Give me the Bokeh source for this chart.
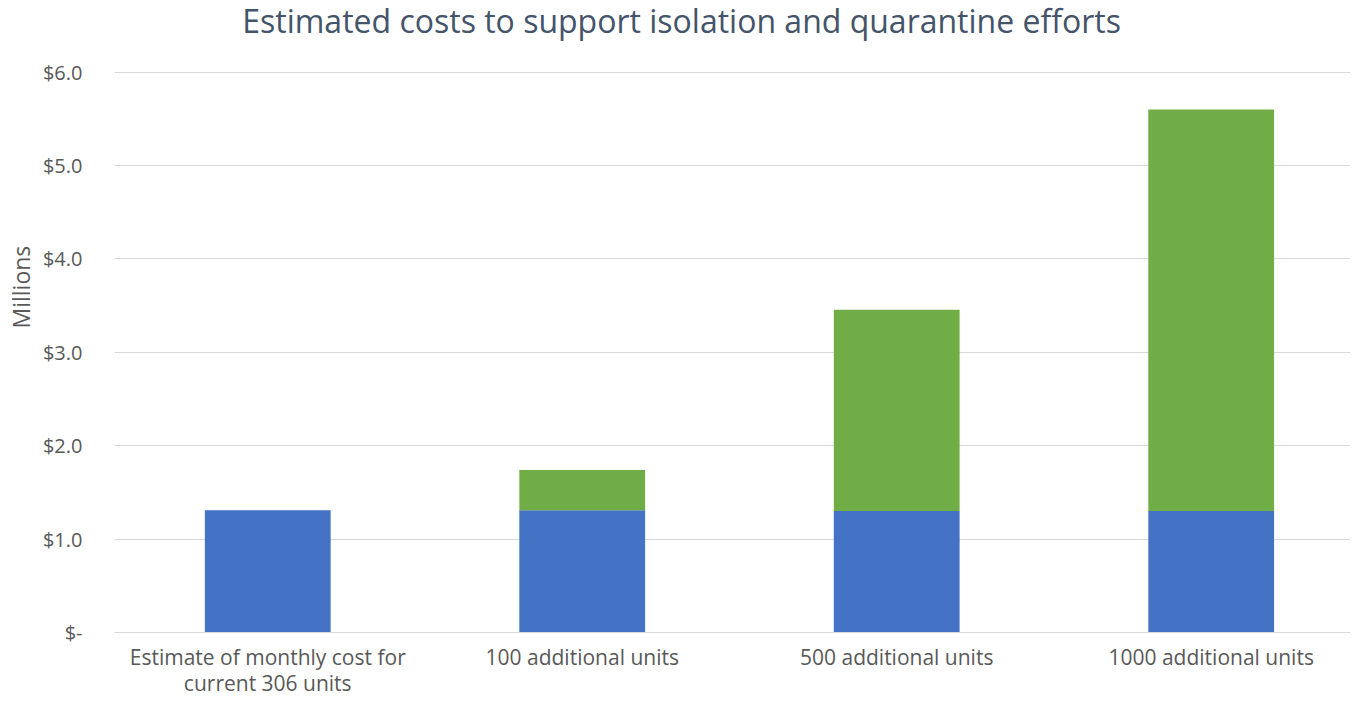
from bokeh.plotting import figure
from bokeh.models import Range1d, FixedTicker, ColumnDataSource, Title, Label
from bokeh.embed import file_html
from bokeh.resources import INLINE

title_text = "Estimated costs to support isolation and quarantine efforts"
categories = ["Estimate of monthly cost for\ncurrent 306 units", "100 additional units",
              "500 additional units", "1000 additional units"]
current_cost = [1.31, 1.31, 1.30, 1.30]
additional_cost = [0.0, 0.43, 2.155, 4.30]
y_ticks = [0, 1, 2, 3, 4, 5, 6]
y_tick_labels = ["$-", "$1.0", "$2.0", "$3.0", "$4.0", "$5.0", "$6.0"]

FONT = "Open Sans"
GRAY = "#595959"

xs = list(range(len(categories)))
top_total = [a + b for a, b in zip(current_cost, additional_cost)]
src = ColumnDataSource(dict(x=xs, cur=current_cost, top=top_total))

# frame spans the full height above the x labels; the extra range above 6 holds the title
p = figure(width=1350, height=700, output_backend="svg", toolbar_location=None,
           title_location=None,
           x_range=Range1d(-0.4873, 3.443), y_range=Range1d(0, 6.767),
           min_border_left=112, min_border_right=0, min_border_top=0, min_border_bottom=60)

p.vbar(x="x", bottom=0, top="cur", width=0.4, source=src, color="#4472C4", line_color=None)
p.vbar(x="x", bottom="cur", top="top", width=0.4, source=src, color="#70AD47", line_color=None)

title = Label(x=1.316, y=6.55, text=title_text, text_align="center",
              text_baseline="alphabetic", text_font=FONT, text_font_size="32px",
              text_color="#44546A")
p.add_layout(title)

p.outline_line_color = None
p.xgrid.grid_line_color = None
p.ygrid.grid_line_color = "#D9D9D9"
p.ygrid.grid_line_width = 1.2

p.xaxis.ticker = FixedTicker(ticks=xs)
p.xaxis.major_label_overrides = {i: c for i, c in zip(xs, categories)}
p.xaxis.axis_line_color = "#D9D9D9"
p.xaxis.axis_line_width = 1.2
p.xaxis.major_tick_line_color = None
p.xaxis.minor_tick_line_color = None
p.xaxis.major_label_text_font = FONT
p.xaxis.major_label_text_font_size = "21px"
p.xaxis.major_label_text_line_height = 0.95
p.xaxis.major_label_text_color = GRAY
p.xaxis.major_label_standoff = 4

p.yaxis.ticker = FixedTicker(ticks=y_ticks)
p.yaxis.major_label_overrides = {t: l for t, l in zip(y_ticks, y_tick_labels)}
p.yaxis.axis_line_color = None
p.yaxis.major_tick_line_color = None
p.yaxis.minor_tick_line_color = None
p.yaxis.major_label_text_font = FONT
p.yaxis.major_label_text_font_size = "20px"
p.yaxis.major_label_text_color = GRAY
p.yaxis.major_label_standoff = 26

ytitle = Title(text="Millions", align="left", offset=304, text_font=FONT,
               text_font_size="23px", text_font_style="normal", text_color=GRAY,
               standoff=5)
p.add_layout(ytitle, "left")

open("out.html", "w").write(file_html(p, INLINE))
